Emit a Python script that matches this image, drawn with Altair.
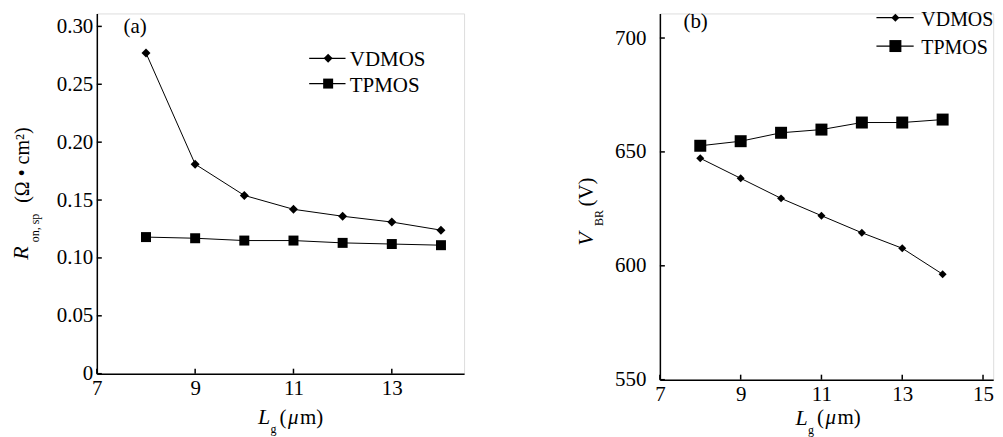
import altair as alt
import pandas as pd

# ---------------- data ----------------
lg = [8, 9, 10, 11, 12, 13, 14]
ron_vdmos = [0.277, 0.181, 0.154, 0.142, 0.136, 0.131, 0.124]
ron_tpmos = [0.118, 0.117, 0.115, 0.115, 0.113, 0.112, 0.111]
vbr_vdmos = [647.2, 638.4, 629.6, 622.0, 614.5, 607.7, 596.3]
vbr_tpmos = [652.7, 654.7, 658.4, 659.8, 662.9, 662.9, 664.2]
series_names = ["VDMOS", "TPMOS"]

xticks_a = [7, 9, 11, 13]
yticks_a = [0, 0.05, 0.10, 0.15, 0.20, 0.25, 0.30]
xticks_b = [7, 9, 11, 13, 15]
yticks_b = [550, 600, 650, 700]

FONT = "Liberation Serif"
one = pd.DataFrame({"k": [0]})


def long_df(a, b):
    return pd.DataFrame({
        "Lg": lg * 2,
        "value": a + b,
        "series": [series_names[0]] * len(lg) + [series_names[1]] * len(lg),
    })


def txt(s, x, y, size=21, italic=False, align="left", angle=0, baseline="middle"):
    props = dict(text=s, font=FONT, fontSize=size, align=align,
                 baseline=baseline, color="black")
    if italic:
        props["fontStyle"] = "italic"
    if angle:
        props["angle"] = angle
    return alt.Chart(one).mark_text(**props).encode(x=alt.value(x), y=alt.value(y))


def panel(df, W, H, xdom, ydom, xticks, yticks, ylabel_expr, ylabpad,
          dsize, ssize, extra):
    xs = alt.Scale(domain=xdom, nice=False, zero=False)
    ys = alt.Scale(domain=ydom, nice=False, zero=False)
    common = dict(title=None, ticks=False, grid=False, domainColor="black",
                  domainWidth=1.5, labelColor="black", labelFont=FONT,
                  labelFontSize=21, labelOverlap=False, labelFlush=False)
    xaxis = alt.Axis(values=xticks, format="d", labelPadding=4, **common)
    yaxis = alt.Axis(values=yticks, labelExpr=ylabel_expr,
                     labelPadding=ylabpad, **common)
    X = alt.X("Lg:Q", scale=xs, axis=xaxis)
    Y = alt.Y("value:Q", scale=ys, axis=yaxis)

    lines = alt.Chart(df).mark_line(color="black", strokeWidth=1).encode(
        x=X, y=Y, detail="series:N")
    pts_v = alt.Chart(df).transform_filter(alt.datum.series == "VDMOS").mark_point(
        shape="diamond", filled=True, size=dsize, color="black", opacity=1
    ).encode(x=X, y=Y)
    pts_t = alt.Chart(df).transform_filter(alt.datum.series == "TPMOS").mark_point(
        shape="square", filled=True, size=ssize, color="black", opacity=1
    ).encode(x=X, y=Y)

    ytk = alt.Chart(pd.DataFrame({"value": yticks})).mark_rule(
        color="black", strokeWidth=1.5
    ).encode(y=alt.Y("value:Q", scale=ys, axis=yaxis), x=alt.value(0), x2=alt.value(5))
    xtk = alt.Chart(pd.DataFrame({"Lg": xticks})).mark_rule(
        color="black", strokeWidth=1.5
    ).encode(x=alt.X("Lg:Q", scale=xs, axis=xaxis), y=alt.value(H), y2=alt.value(H - 5))

    return alt.layer(lines, pts_v, pts_t, ytk, xtk, *extra).properties(width=W, height=H)


def legend(x0, x1, xm, xt, y1, y2, dsize, ssize, fsize):
    out = []
    for (yy, shp, sz, name) in [(y1, "diamond", dsize, "VDMOS"), (y2, "square", ssize, "TPMOS")]:
        out.append(alt.Chart(one).mark_rule(color="black", strokeWidth=1.2).encode(
            x=alt.value(x0), x2=alt.value(x1), y=alt.value(yy)))
        out.append(alt.Chart(one).mark_point(shape=shp, filled=True, size=sz,
                                             color="black", opacity=1).encode(
            x=alt.value(xm), y=alt.value(yy)))
        out.append(txt(name, xt, yy + 2, size=fsize))
    return out


def xtitle(x, y, gy):
    return [
        txt("L", x, y, size=22, italic=True),
        txt("g", x + 12.5, gy, size=12),
        txt("(", x + 21.5, y + 0.5, size=21),
        txt("μ", x + 30, y + 0.5, size=21, italic=True),
        txt("m)", x + 42, y + 0.5, size=21),
    ]


# ---------------- panel (a) ----------------
extra_a = [
    txt("(a)", 26.8, 13.5),
    *legend(212.8, 249.2, 231.8, 253.5, 45, 70.3, 81, 100, 21),
    txt("R", -75.5, 240, size=22, italic=True, align="center", angle=270),
    txt("on, sp", -61.5, 215, size=12, align="center", angle=270),
    txt("(Ω • cm²)", -74, 152, size=20, align="center", angle=270),
    *xtitle(161.5, 404.5, 416),
]
chart_a = panel(long_df(ron_vdmos, ron_tpmos), 368, 361, [7, 14.47], [0, 0.3112],
                xticks_a, yticks_a,
                "datum.value == 0 ? '0' : format(datum.value, '.2f')", 4,
                81, 100, extra_a)

# ---------------- panel (b) ----------------
extra_b = [
    txt("(b)", 23.6, 8.5),
    *legend(217, 254.3, 236, 262, 4.3, 32.7, 64, 144, 20),
    txt("V", -73.7, 226, size=22, italic=True, align="center", angle=270),
    txt("BR", -60.7, 205, size=12, align="center", angle=270),
    txt("(V)", -72.7, 179, size=21, align="center", angle=270),
    *xtitle(136, 405, 417.5),
]
chart_b = panel(long_df(vbr_vdmos, vbr_tpmos), 334, 367, [7, 15.252], [550, 710.8],
                xticks_b, yticks_b, "format(datum.value, 'd')", 14,
                64, 144, extra_b)

chart = alt.hconcat(chart_a, chart_b, spacing=196.2, bounds="flush").properties(
    padding={"left": 2, "top": 0, "right": 0, "bottom": 0}
).configure_view(strokeWidth=0).configure(background="white")

chart.save("out.html", embed_options={"renderer": "svg", "actions": False})
